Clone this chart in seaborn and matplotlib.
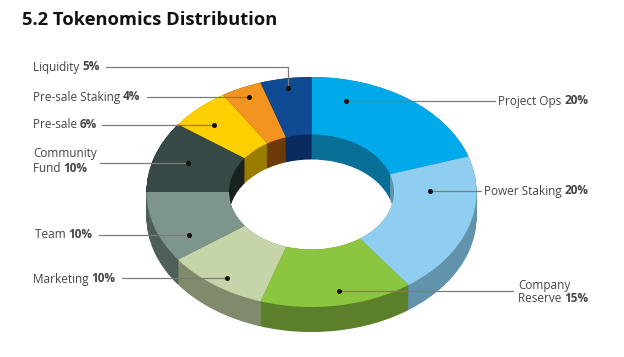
import matplotlib
matplotlib.use("Agg")
import matplotlib.pyplot as plt
import seaborn as sns
import numpy as np

# ---- data ----
categories = ["Project Ops", "Power Staking", "Company Reserve", "Marketing", "Team",
              "Community Fund", "Pre-sale", "Pre-sale Staking", "Liquidity"]
shares = [20, 20, 15, 10, 10, 10, 6, 4, 5]
label_names = ["Project Ops", "Power Staking", "Company\nReserve", "Marketing", "Team",
               "Community\nFund", "Pre-sale", "Pre-sale Staking", "Liquidity"]
top_colors = ["#00A9E9", "#8FCEF0", "#8CC53F", "#C5D4A9", "#7E958D",
              "#374947", "#FFD000", "#F39420", "#0F4A92"]
side_colors = ["#0A6F97", "#6193AD", "#5B7F2A", "#7F8B6B", "#4E5E59",
               "#172221", "#9A7D00", "#6B3A06", "#0A2B5D"]

sns.set_theme(style="white")
plt.rcParams['font.family'] = ['Open Sans', 'DejaVu Sans']

W, H = 624, 357
fig = plt.figure(figsize=(W / 100, H / 100), dpi=100)
ax = fig.add_axes([0, 0, 1, 1])

# layout of the projected donut (pixels)
CX, CY, RX, RY = 311.5, 192.0, 165.0, 115.0
DEPTH = 25.0 / RY


def P(x, y):
    return ((x - CX) / RX, (CY - y) / RY)


# side (extruded) layers, bottom to top
n_layers = 40
for k in np.linspace(DEPTH, 0.0, n_layers):
    ax.pie(shares, colors=side_colors, startangle=90, counterclock=False,
           radius=1.0, center=(0, -k), frame=True,
           wedgeprops=dict(width=0.5, linewidth=0, antialiased=True))
# top face
ax.pie(shares, colors=top_colors, startangle=90, counterclock=False,
       radius=1.0, center=(0, 0), frame=True,
       wedgeprops=dict(width=0.5, linewidth=0, antialiased=True))

ax.set_aspect('auto')
ax.set_xlim(P(0, 0)[0], P(W, 0)[0])
ax.set_ylim(P(0, H)[1], P(0, 0)[1])
ax.axis('off')

# ---- labels (layout anchors in pixels) ----
# (text_x, text_y, line_start_x, dot_x, dot_y, elbow_y)
anchors = {
    "Project Ops": (498, 101, 495, 346, 101, None),
    "Power Staking": (484, 191, 481, 430, 191, None),
    "Company Reserve": (518, 292, 513, 339, 291, None),
    "Marketing": (33, 279, 122, 227, 278, None),
    "Team": (35, 235, 99, 189, 235, None),
    "Community Fund": (33, 161, 100, 188, 163, None),
    "Pre-sale": (33, 125, 102, 214, 125, None),
    "Pre-sale Staking": (33, 97, 147, 249, 97, None),
    "Liquidity": (33, 67, 106, 288, 88, 67),
}

txt_color = "#444444"
line_color = "#7a7a7a"
fs = 8.5
renderer = fig.canvas.get_renderer()

for cat, name, val in zip(categories, label_names, shares):
    tx, ty, lx, dx, dy, elbow = anchors[cat]
    lines = name.split("\n")
    n = len(lines)
    lh = 14
    for i, ln in enumerate(lines):
        yy = ty + (i - (n - 1) / 2) * lh
        last = (i == n - 1)
        t = ax.text(*P(tx, yy), ln + (" " if last else ""), fontsize=fs,
                    color=txt_color, ha="left", va="center")
        if last:
            bb = t.get_window_extent(renderer=renderer)
            ax.text((bb.x1 - CX) / RX, P(0, yy)[1], f"{val}%", fontsize=fs,
                    color=txt_color, fontweight="bold", ha="left", va="center")
    # leader line
    if elbow is not None:
        xs = [lx, dx, dx]
        ys = [elbow, elbow, dy]
    else:
        xs = [lx, dx]
        ys = [dy, dy]
    pts = [P(a, b) for a, b in zip(xs, ys)]
    ax.plot([p[0] for p in pts], [p[1] for p in pts], color=line_color, lw=0.9, zorder=5)
    ax.plot(*P(dx, dy), marker="o", ms=2.6, color="#111111", zorder=6)

fig.text(22 / W, 1 - 20 / H, "5.2 Tokenomics Distribution", fontsize=13.2,
         fontweight="bold", color="#111111", ha="left", va="center")

fig.savefig("out.png", dpi=100, facecolor="white")
